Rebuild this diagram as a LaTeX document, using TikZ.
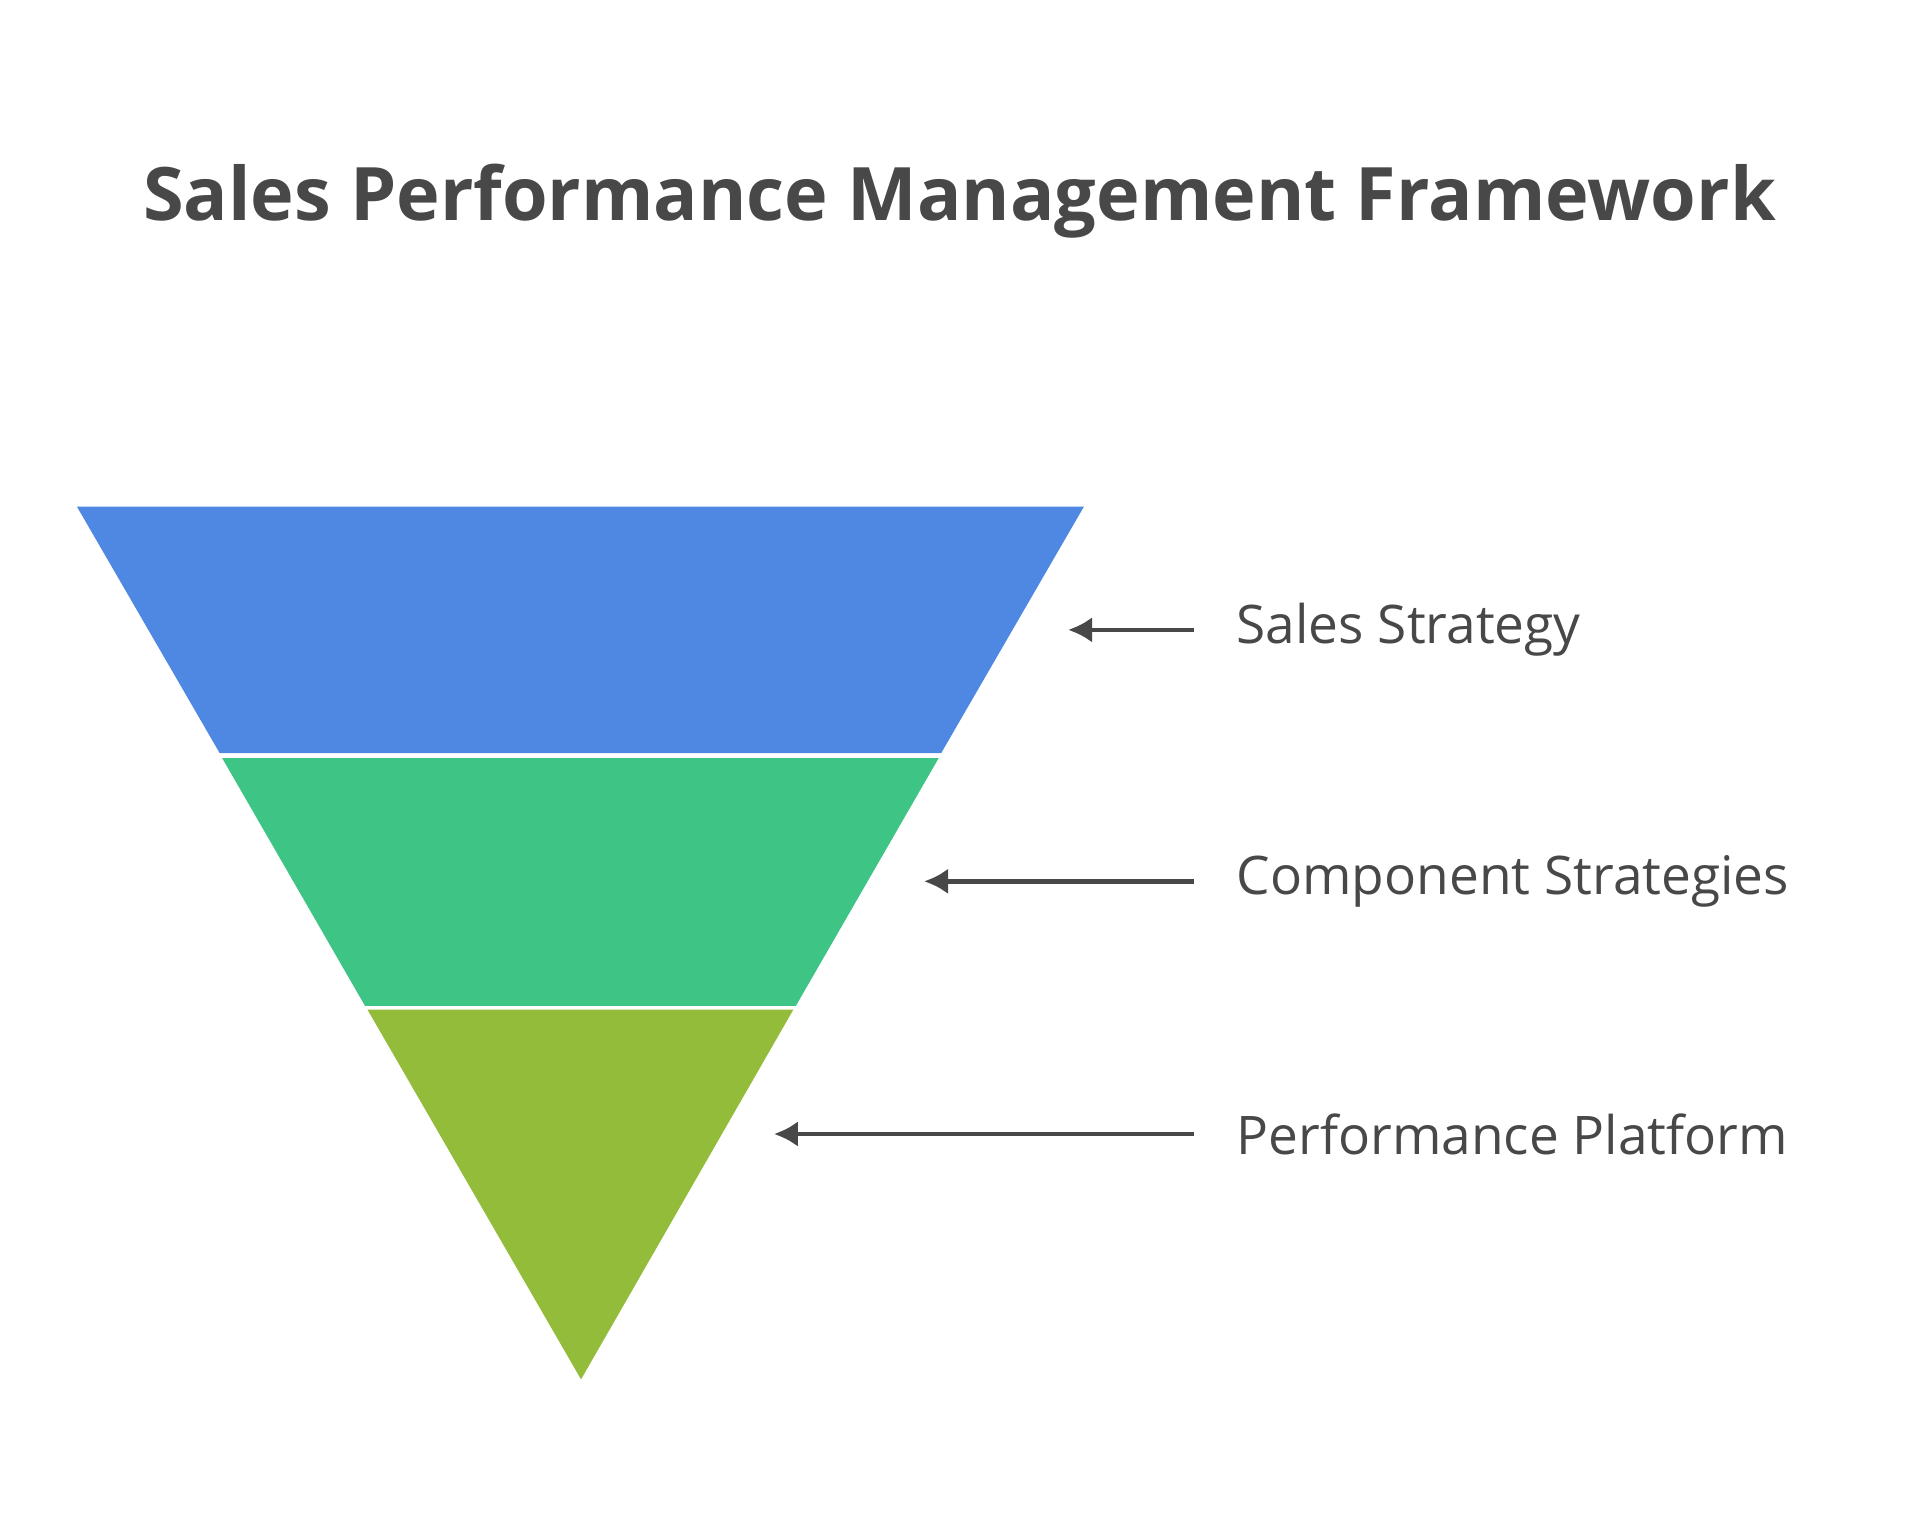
\documentclass[tikz,border=0pt]{standalone}
\usepackage{fontspec}
\setmainfont{Open Sans}
\usetikzlibrary{arrows.meta}
\definecolor{bandblue}{HTML}{4F88E3}
\definecolor{bandgreen}{HTML}{3EC484}
\definecolor{bandolive}{HTML}{92BC3A}
\definecolor{inkgray}{HTML}{484848}
\begin{document}
\begin{tikzpicture}[x=0.05cm, y=-0.05cm,
    band/.style={draw=none},
    label/.style={anchor=west, text=inkgray, font=\fontsize{62}{70}\selectfont, inner sep=0},
    pointer/.style={draw=inkgray, line width=5.5pt, -{Latex[length=28pt, width=30pt]}}]
  \useasboundingbox (0,0) rectangle (1568,1254);

  % Title
  \node[text=inkgray, font=\fontsize{86}{96}\selectfont\bfseries] (title) at (786,165) {Sales Performance Management Framework};

  % Funnel bands
  \fill[bandblue, band] (63,415) -- (888,415) -- (771,617) -- (180,617) -- cycle;
  \fill[bandgreen, band] (182,621) -- (769,621) -- (652,824) -- (299,824) -- cycle;
  \fill[bandolive, band] (301,827) -- (650,827) -- (476,1130) -- cycle;

  % Labels & arrows
  \foreach \txt/\y/\tip [count=\n] in {Sales Strategy/516/875, Component Strategies/722/757, Performance Platform/929/634} {
    \node[label] (lbl\n) at (1013,\y) {\txt};
    \coordinate (tip\n) at (\tip,\y);
    \draw[pointer] (978,\y) -- (tip\n);
  }
\end{tikzpicture}
\end{document}
